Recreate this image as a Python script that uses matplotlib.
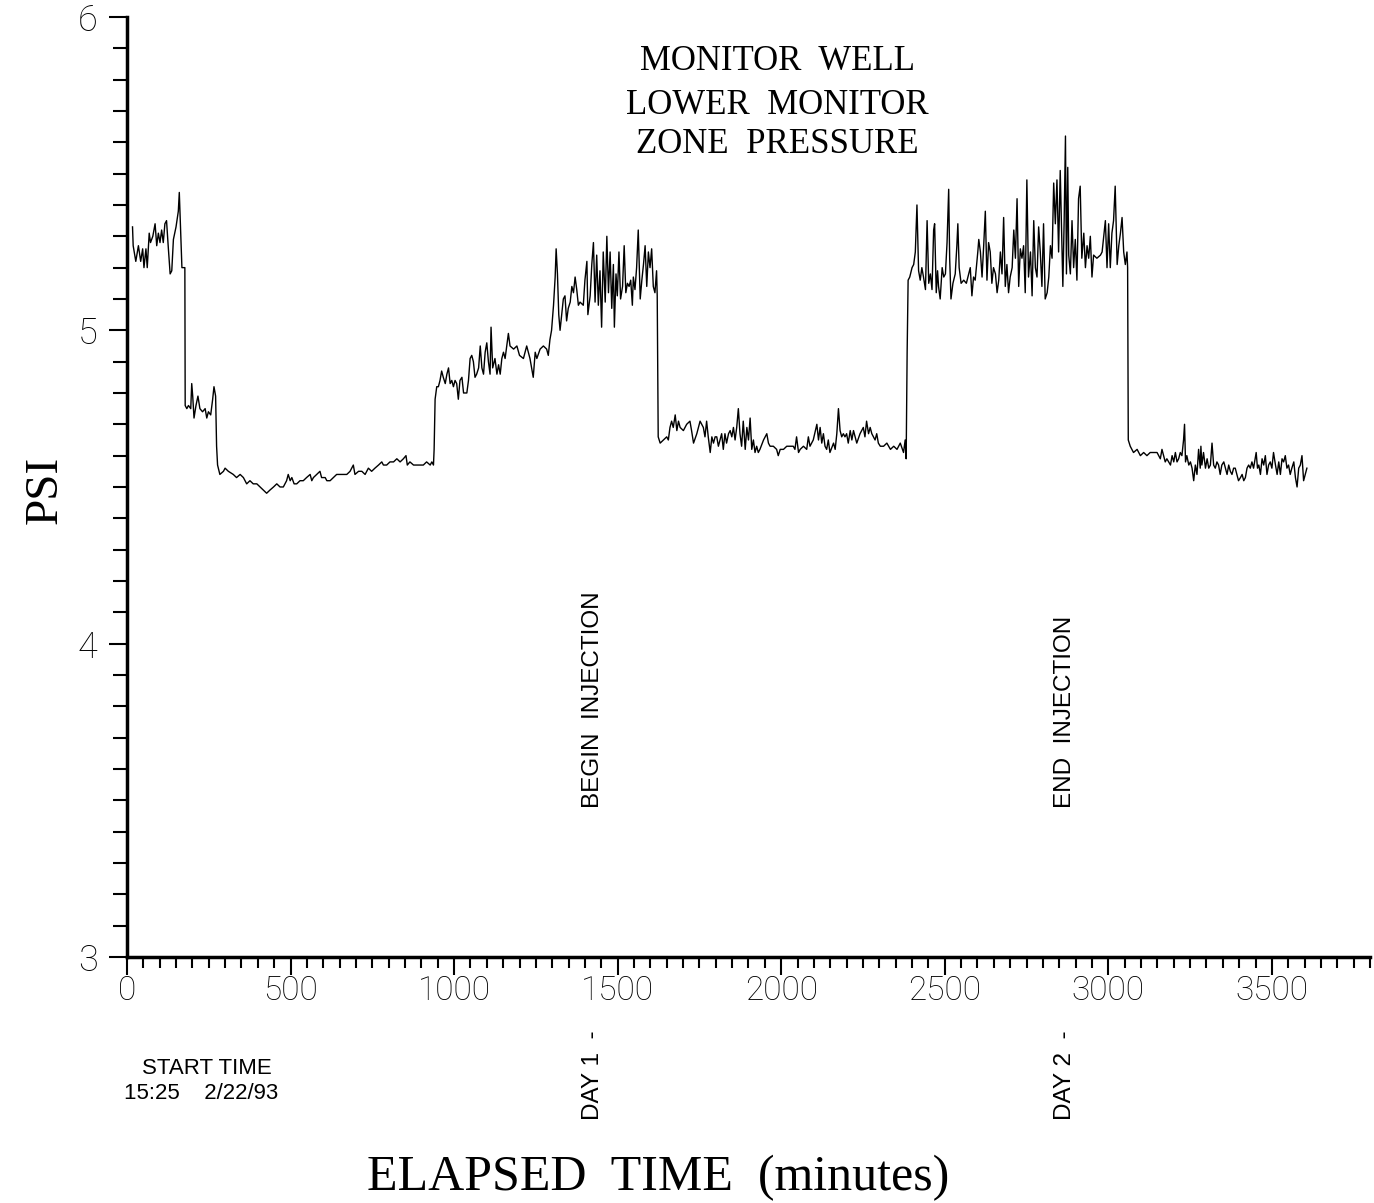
import matplotlib
matplotlib.use('Agg')
import matplotlib.pyplot as plt
from matplotlib.ticker import MultipleLocator
import numpy as np

# Lower monitor zone pressure, elapsed minutes vs PSI
# before injection (recovery after the early drops, slow rise)
t_pre = [17, 19, 27, 35, 42, 48, 52, 58, 62, 68,
         72, 79, 86, 91, 96, 101, 106, 111, 116, 121,
         126, 132, 137, 142, 150, 157, 160, 164, 168, 177,
         178, 183, 188, 195, 198, 201, 205, 211, 217, 223,
         231, 239, 244, 249, 256, 262, 266, 271, 274, 277,
         284, 295, 300, 310, 325, 335, 346, 356, 366, 376,
         386, 397, 407, 417, 427, 437, 448, 458, 468, 478,
         488, 493, 499, 504, 511, 519, 529, 539, 549, 560,
         565, 570, 580, 590, 595, 606, 611, 621, 631, 641,
         651, 662, 672, 682, 692, 697, 708, 718, 728, 738,
         748, 758, 769, 779, 784, 794, 804, 815, 825, 835,
         845, 853, 857, 865, 876, 886, 896, 906, 916, 927,
         932, 937, 939, 942, 947, 952, 957, 962, 967, 973,
         978, 983, 988, 993, 998, 1003, 1008, 1013, 1018, 1024,
         1029, 1034, 1039, 1044, 1049, 1054, 1059, 1064, 1069, 1075,
         1080, 1085, 1090, 1095, 1100, 1105, 1110, 1113, 1118, 1125,
         1131, 1136, 1141, 1146, 1151, 1156, 1161, 1166, 1171, 1182,
         1192, 1200]
p_pre = [5.33, 5.27, 5.22, 5.27, 5.22, 5.26, 5.20, 5.26, 5.20, 5.31,
         5.28, 5.30, 5.34, 5.27, 5.31, 5.28, 5.32, 5.28, 5.34, 5.35,
         5.27, 5.18, 5.19, 5.29, 5.33, 5.38, 5.44, 5.32, 5.20, 5.20,
         4.76, 4.75, 4.76, 4.75, 4.83, 4.79, 4.72, 4.76, 4.79, 4.75,
         4.74, 4.75, 4.72, 4.74, 4.73, 4.78, 4.82, 4.79, 4.63, 4.57,
         4.54, 4.55, 4.56, 4.55, 4.54, 4.53, 4.54, 4.53, 4.51, 4.52,
         4.51, 4.51, 4.50, 4.49, 4.48, 4.49, 4.50, 4.51, 4.50, 4.50,
         4.52, 4.54, 4.52, 4.53, 4.51, 4.51, 4.52, 4.52, 4.53, 4.54,
         4.52, 4.53, 4.54, 4.55, 4.53, 4.53, 4.52, 4.52, 4.53, 4.54,
         4.54, 4.54, 4.54, 4.55, 4.57, 4.54, 4.55, 4.55, 4.54, 4.56,
         4.55, 4.56, 4.57, 4.58, 4.57, 4.57, 4.58, 4.58, 4.59, 4.58,
         4.59, 4.60, 4.57, 4.58, 4.57, 4.57, 4.57, 4.57, 4.58, 4.57,
         4.58, 4.57, 4.62, 4.78, 4.82, 4.82, 4.84, 4.87, 4.85, 4.83,
         4.86, 4.88, 4.83, 4.84, 4.82, 4.84, 4.83, 4.78, 4.84, 4.85,
         4.80, 4.80, 4.80, 4.84, 4.91, 4.92, 4.90, 4.85, 4.86, 4.88,
         4.95, 4.88, 4.86, 4.93, 4.96, 4.90, 4.86, 5.01, 4.88, 4.91,
         4.86, 4.89, 4.86, 4.91, 4.93, 4.91, 4.95, 4.99, 4.95, 4.94,
         4.95, 4.92]

# day 1 step up, then quiet period until injection
t_mid = [1212, 1222, 1232, 1242, 1248, 1253, 1263, 1273, 1283, 1288,
         1293, 1298, 1304, 1309, 1312, 1316, 1320, 1324, 1329, 1334,
         1339, 1344, 1349, 1355, 1360, 1365, 1370, 1375, 1380, 1385,
         1395, 1400, 1406, 1409, 1416, 1421, 1426, 1431, 1436, 1441,
         1446, 1451, 1456, 1462, 1467, 1472, 1477, 1482, 1487, 1490,
         1495, 1499, 1504, 1509, 1515, 1520, 1525, 1530, 1535, 1540,
         1545, 1548, 1553, 1558, 1563, 1569, 1574, 1579, 1584, 1589,
         1594, 1599, 1604, 1609, 1614, 1619, 1621, 1624, 1630, 1640,
         1650, 1655, 1660, 1665, 1670, 1676, 1681, 1686, 1691, 1701,
         1711, 1721, 1726, 1732, 1742, 1752, 1762, 1767, 1772, 1777,
         1783, 1788, 1793, 1798, 1803, 1808, 1813, 1818, 1823, 1828,
         1833, 1839, 1844, 1849, 1854, 1859, 1864, 1869, 1874, 1879,
         1884, 1890, 1895, 1900, 1905, 1910, 1915, 1920, 1925, 1930,
         1935, 1946, 1956, 1961, 1966, 1976, 1986, 1991, 1997, 2007,
         2017, 2027, 2037, 2042, 2047, 2053, 2058, 2068, 2078, 2083,
         2088, 2098, 2109, 2114, 2119, 2124, 2129, 2134, 2139, 2144,
         2149, 2160, 2165, 2170, 2175, 2180, 2185, 2190, 2195, 2200,
         2205, 2211, 2216, 2221, 2231, 2241, 2251, 2256, 2261, 2267,
         2272, 2277, 2282, 2287, 2292, 2297]
p_mid = [4.91, 4.95, 4.91, 4.85, 4.93, 4.91, 4.94, 4.95, 4.94, 4.92,
         4.97, 5.00, 5.08, 5.17, 5.26, 5.18, 5.05, 5.00, 5.05, 5.10,
         5.11, 5.03, 5.07, 5.09, 5.14, 5.12, 5.17, 5.13, 5.08, 5.09,
         5.08, 5.16, 5.22, 5.05, 5.11, 5.21, 5.28, 5.09, 5.24, 5.08,
         5.19, 5.01, 5.25, 5.09, 5.30, 5.12, 5.25, 5.07, 5.21, 5.01,
         5.18, 5.11, 5.25, 5.10, 5.14, 5.27, 5.12, 5.15, 5.14, 5.16,
         5.08, 5.17, 5.13, 5.20, 5.32, 5.10, 5.16, 5.21, 5.27, 5.14,
         5.25, 5.20, 5.26, 5.14, 5.12, 5.19, 5.11, 4.66, 4.64, 4.65,
         4.66, 4.65, 4.69, 4.71, 4.69, 4.73, 4.68, 4.71, 4.69, 4.68,
         4.70, 4.71, 4.68, 4.64, 4.67, 4.71, 4.69, 4.66, 4.71, 4.66,
         4.61, 4.66, 4.64, 4.66, 4.66, 4.63, 4.65, 4.67, 4.62, 4.67,
         4.64, 4.67, 4.68, 4.66, 4.69, 4.65, 4.69, 4.75, 4.67, 4.63,
         4.71, 4.62, 4.69, 4.65, 4.72, 4.62, 4.65, 4.61, 4.63, 4.61,
         4.62, 4.65, 4.67, 4.64, 4.63, 4.63, 4.62, 4.60, 4.62, 4.62,
         4.63, 4.63, 4.63, 4.62, 4.66, 4.61, 4.62, 4.63, 4.62, 4.66,
         4.63, 4.65, 4.70, 4.65, 4.69, 4.64, 4.67, 4.63, 4.62, 4.65,
         4.61, 4.64, 4.62, 4.67, 4.75, 4.68, 4.66, 4.67, 4.66, 4.67,
         4.64, 4.68, 4.65, 4.68, 4.64, 4.67, 4.69, 4.66, 4.71, 4.67,
         4.69, 4.67, 4.66, 4.65, 4.67, 4.64]

# injection period and fall-off afterwards
t_inj = [2303, 2313, 2323, 2334, 2344, 2354, 2364, 2374, 2379, 2382,
         2385, 2388, 2393, 2400, 2405, 2410, 2415, 2420, 2425, 2430,
         2435, 2441, 2446, 2451, 2456, 2461, 2466, 2469, 2474, 2478,
         2481, 2486, 2492, 2497, 2502, 2507, 2512, 2515, 2519, 2525,
         2532, 2537, 2540, 2544, 2550, 2558, 2566, 2573, 2578, 2583,
         2588, 2593, 2601, 2604, 2609, 2614, 2619, 2624, 2629, 2634,
         2639, 2644, 2649, 2655, 2660, 2665, 2670, 2675, 2680, 2685,
         2690, 2695, 2700, 2706, 2711, 2716, 2721, 2726, 2731, 2736,
         2741, 2746, 2751, 2756, 2762, 2767, 2772, 2777, 2782, 2787,
         2792, 2797, 2802, 2807, 2813, 2818, 2823, 2828, 2833, 2838,
         2843, 2848, 2853, 2858, 2861, 2865, 2869, 2872, 2876, 2879,
         2884, 2889, 2894, 2899, 2904, 2909, 2914, 2919, 2925, 2930,
         2935, 2940, 2945, 2950, 2955, 2965, 2976, 2981, 2986, 2991,
         2996, 3001, 3006, 3011, 3016, 3021, 3027, 3032, 3037, 3042,
         3047, 3052, 3057, 3059, 3061, 3067, 3077, 3088, 3098, 3108,
         3118, 3128, 3139, 3149, 3154, 3159, 3164, 3169, 3174, 3179,
         3190, 3195, 3200, 3205, 3210, 3215, 3220, 3225, 3230, 3233,
         3236, 3240, 3246, 3251, 3256, 3261, 3266, 3271, 3276, 3281,
         3283, 3286, 3291, 3297, 3302, 3307, 3312, 3317, 3322, 3327,
         3332, 3337, 3342, 3347, 3353, 3358, 3363, 3368, 3373, 3378,
         3383, 3388, 3393, 3398, 3404, 3409, 3414, 3419, 3424, 3429,
         3434, 3439, 3444, 3449, 3452, 3456, 3460, 3465, 3470, 3475,
         3480, 3485, 3490, 3495, 3500, 3505, 3511, 3516, 3521, 3526,
         3531, 3536, 3541, 3546, 3551, 3556, 3561, 3567, 3572, 3577,
         3582, 3587, 3592, 3597, 3602, 3607]
p_inj = [4.63, 4.63, 4.64, 4.62, 4.63, 4.62, 4.64, 4.61, 4.65, 4.59,
         4.93, 5.16, 5.17, 5.20, 5.21, 5.25, 5.40, 5.19, 5.16, 5.20,
         5.17, 5.13, 5.35, 5.15, 5.18, 5.13, 5.32, 5.34, 5.12, 5.19,
         5.14, 5.10, 5.20, 5.17, 5.18, 5.28, 5.45, 5.23, 5.10, 5.15,
         5.18, 5.27, 5.34, 5.20, 5.15, 5.16, 5.15, 5.18, 5.20, 5.11,
         5.17, 5.16, 5.25, 5.29, 5.25, 5.17, 5.27, 5.38, 5.16, 5.28,
         5.25, 5.15, 5.20, 5.18, 5.12, 5.16, 5.25, 5.18, 5.36, 5.14,
         5.21, 5.12, 5.17, 5.20, 5.32, 5.23, 5.42, 5.14, 5.26, 5.23,
         5.27, 5.12, 5.48, 5.17, 5.25, 5.11, 5.35, 5.20, 5.17, 5.33,
         5.25, 5.14, 5.34, 5.10, 5.12, 5.17, 5.27, 5.23, 5.47, 5.34,
         5.48, 5.25, 5.51, 5.27, 5.14, 5.35, 5.62, 5.18, 5.52, 5.24,
         5.18, 5.35, 5.20, 5.29, 5.16, 5.42, 5.46, 5.23, 5.31, 5.20,
         5.27, 5.23, 5.30, 5.17, 5.24, 5.23, 5.24, 5.25, 5.30, 5.35,
         5.20, 5.34, 5.20, 5.31, 5.35, 5.46, 5.21, 5.27, 5.31, 5.36,
         5.25, 5.21, 5.25, 5.20, 4.65, 4.63, 4.61, 4.62, 4.60, 4.61,
         4.60, 4.61, 4.61, 4.61, 4.60, 4.59, 4.62, 4.60, 4.58, 4.59,
         4.57, 4.60, 4.58, 4.61, 4.58, 4.59, 4.61, 4.60, 4.65, 4.70,
         4.58, 4.60, 4.57, 4.58, 4.56, 4.52, 4.57, 4.54, 4.62, 4.56,
         4.63, 4.57, 4.61, 4.56, 4.59, 4.56, 4.57, 4.64, 4.57, 4.56,
         4.58, 4.57, 4.54, 4.57, 4.58, 4.56, 4.54, 4.57, 4.55, 4.54,
         4.56, 4.56, 4.54, 4.52, 4.53, 4.54, 4.52, 4.53, 4.56, 4.57,
         4.56, 4.58, 4.56, 4.59, 4.61, 4.56, 4.57, 4.54, 4.59, 4.57,
         4.60, 4.54, 4.57, 4.58, 4.56, 4.61, 4.57, 4.54, 4.58, 4.54,
         4.59, 4.58, 4.60, 4.56, 4.57, 4.54, 4.56, 4.58, 4.53, 4.50,
         4.56, 4.57, 4.60, 4.52, 4.54, 4.56]

elapsed = np.concatenate([t_pre, t_mid, t_inj])
psi = np.concatenate([p_pre, p_mid, p_inj])

# event and day markers (minutes from start)
event_x = [1425, 2868]
event_text = ['BEGIN  INJECTION', 'END  INJECTION']
day_x = [1425, 2868]
day_text = ['DAY 1  -', 'DAY 2  -']

serif = 'Liberation Serif'
sans = 'Liberation Sans'

fig = plt.figure(figsize=(13.74, 12.03), dpi=100)
ax = fig.add_axes([0.0924, 0.2045, 0.9047, 0.7814])

ax.plot(elapsed, psi, color='black', lw=1.0)

ax.set_xlim(0, 3800)
ax.set_ylim(3, 6)
ax.xaxis.set_major_locator(MultipleLocator(500))
ax.xaxis.set_minor_locator(MultipleLocator(50))
ax.yaxis.set_major_locator(MultipleLocator(1))
ax.yaxis.set_minor_locator(MultipleLocator(0.1))

for side in ['top', 'right']:
    ax.spines[side].set_visible(False)
for side in ['left', 'bottom']:
    ax.spines[side].set_linewidth(2.5)

ax.tick_params(axis='x', which='major', direction='out', length=13, width=1.5, pad=0)
ax.tick_params(axis='x', which='minor', direction='out', length=8, width=1.5)
ax.tick_params(axis='y', which='major', direction='out', length=13, width=1.5, pad=8)
ax.tick_params(axis='y', which='minor', direction='out', length=10, width=1.5)

for lab in ax.get_xticklabels():
    lab.set_fontfamily('Roboto')
    lab.set_fontweight('light')
    lab.set_fontsize(24)
    lab.set_color('black')
for lab in ax.get_yticklabels():
    lab.set_fontfamily('Roboto')
    lab.set_fontweight('light')
    lab.set_fontsize(26)
    lab.set_color('black')

# title block
fig.text(0.566, 0.9485, 'MONITOR  WELL', family=serif, fontsize=25, ha='center', va='center')
fig.text(0.566, 0.9127, 'LOWER  MONITOR', family=serif, fontsize=25, ha='center', va='center')
fig.text(0.566, 0.8795, 'ZONE  PRESSURE', family=serif, fontsize=25, ha='center', va='center')

fig.text(0.0328, 0.5927, 'PSI', family=serif, fontsize=34, rotation=90, ha='center', va='center')
fig.text(0.479, 0.0105, 'ELAPSED  TIME  (minutes)', family=serif, fontsize=36,
         ha='center', va='baseline')

fig.text(0.1507, 0.1122, 'START TIME', family=sans, fontsize=16, ha='center', va='center')
fig.text(0.1463, 0.0908, '15:25    2/22/93', family=sans, fontsize=16, ha='center', va='center')

for x, s in zip(event_x, event_text):
    ax.text(x, 3.476, s, family=sans, fontsize=17.5, rotation=90, ha='center', va='bottom')

for x, s in zip(day_x, day_text):
    ax.text(x, -0.1734, s, transform=ax.get_xaxis_transform(), family=sans, fontsize=17.5,
            rotation=90, ha='center', va='bottom', clip_on=False)

fig.savefig('out.png', dpi=100)
